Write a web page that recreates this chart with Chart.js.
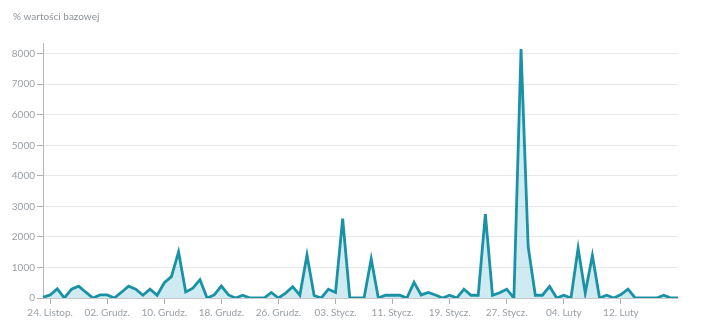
<!DOCTYPE html>
<html>
<head>
<meta charset="utf-8">
<script src="https://cdn.jsdelivr.net/npm/chart.js@4"></script>
<style>
  html, body { margin: 0; padding: 0; background: #ffffff; }
  #wrap { width: 728px; height: 334px; position: relative; }
</style>
</head>
<body>
<div id="wrap"><canvas id="c" width="728" height="334"></canvas></div>
<script>
const categories = [
  '23. Listop.','24. Listop.','25. Listop.','26. Listop.','27. Listop.','28. Listop.','29. Listop.','30. Listop.',
  '01. Grudz.','02. Grudz.','03. Grudz.','04. Grudz.','05. Grudz.','06. Grudz.','07. Grudz.','08. Grudz.',
  '09. Grudz.','10. Grudz.','11. Grudz.','12. Grudz.','13. Grudz.','14. Grudz.','15. Grudz.','16. Grudz.',
  '17. Grudz.','18. Grudz.','19. Grudz.','20. Grudz.','21. Grudz.','22. Grudz.','23. Grudz.','24. Grudz.',
  '25. Grudz.','26. Grudz.','27. Grudz.','28. Grudz.','29. Grudz.','30. Grudz.','31. Grudz.',
  '01. Stycz.','02. Stycz.','03. Stycz.','04. Stycz.','05. Stycz.','06. Stycz.','07. Stycz.','08. Stycz.',
  '09. Stycz.','10. Stycz.','11. Stycz.','12. Stycz.','13. Stycz.','14. Stycz.','15. Stycz.','16. Stycz.',
  '17. Stycz.','18. Stycz.','19. Stycz.','20. Stycz.','21. Stycz.','22. Stycz.','23. Stycz.','24. Stycz.',
  '25. Stycz.','26. Stycz.','27. Stycz.','28. Stycz.','29. Stycz.','30. Stycz.','31. Stycz.',
  '01. Luty','02. Luty','03. Luty','04. Luty','05. Luty','06. Luty','07. Luty','08. Luty','09. Luty','10. Luty',
  '11. Luty','12. Luty','13. Luty','14. Luty','15. Luty','16. Luty','17. Luty','18. Luty','19. Luty','20. Luty'
];
const values = [
  20, 100, 300, 0, 290, 390, 190, 0, 100, 100,
  0, 190, 390, 290, 90, 290, 90, 500, 700, 1510,
  200, 320, 600, 0, 100, 390, 100, 0, 90, 0,
  0, 0, 180, 0, 160, 370, 90, 1410, 80, 0,
  290, 180, 2600, 0, 0, 0, 1280, 0, 90, 90,
  90, 0, 510, 100, 180, 100, 0, 90, 0, 290,
  90, 90, 2750, 90, 170, 290, 0, 8150, 1680, 90,
  90, 380, 0, 90, 0, 1630, 160, 1390, 0, 90,
  0, 110, 290, 0, 0, 0, 0, 90, 0, 0
];
const tickLabels = ['24. Listop.','02. Grudz.','10. Grudz.','18. Grudz.','26. Grudz.','03. Stycz.','11. Stycz.','19. Stycz.','27. Stycz.','04. Luty','12. Luty'];
const yTicks = [0, 1000, 2000, 3000, 4000, 5000, 6000, 7000, 8000];
const yAxisTitle = '% wartości bazowej';

const FONT = 'Lato, "Open Sans", "DejaVu Sans", sans-serif';

const topLabel = {
  id: 'topLabel',
  afterDraw(chart) {
    const ctx = chart.ctx;
    ctx.save();
    ctx.font = '10px ' + FONT;
    ctx.fillStyle = '#8e9398';
    ctx.textAlign = 'left';
    ctx.textBaseline = 'middle';
    ctx.fillText(yAxisTitle, 13, 17);
    ctx.restore();
  }
};

new Chart(document.getElementById('c'), {
  type: 'line',
  data: {
    labels: categories,
    datasets: [{
      data: values,
      borderColor: '#1a92a6',
      backgroundColor: 'rgba(38,160,185,0.22)',
      borderWidth: 2.8,
      fill: 'origin',
      pointRadius: 0,
      tension: 0,
      borderJoinStyle: 'miter'
    }]
  },
  options: {
    responsive: false,
    animation: false,
    layout: { padding: { top: 43, right: 50, bottom: 0, left: 0 } },
    plugins: { legend: { display: false }, tooltip: { enabled: false } },
    scales: {
      x: {
        type: 'category',
        offset: false,
        border: { display: true, color: '#c8c8c8', width: 1 },
        grid: { drawOnChartArea: false, drawTicks: true, tickLength: 6, tickColor: '#b0b0b0' },
        ticks: {
          autoSkip: false,
          maxRotation: 0,
          minRotation: 0,
          padding: 3,
          color: '#9aa0a6',
          font: { family: FONT, size: 10 },
          callback: function (value) {
            const lab = this.getLabelForValue(value);
            return tickLabels.includes(lab) ? lab : null;
          }
        },
        afterFit(scale) { scale.height = 36; }
      },
      y: {
        min: 0,
        max: 8350,
        border: { display: true, color: '#b5b5b5', width: 1 },
        grid: { color: '#e9e9e9', lineWidth: 1, drawTicks: true, tickLength: 6, tickColor: '#b0b0b0' },
        afterBuildTicks(scale) {
          scale.ticks = yTicks.map(v => ({ value: v }));
        },
        ticks: {
          color: '#9aa0a6',
          padding: 2,
          font: { family: FONT, size: 10 },
          callback: v => String(v)
        },
        afterFit(scale) { scale.width = 43; }
      }
    }
  },
  plugins: [topLabel]
});
</script>
</body>
</html>
